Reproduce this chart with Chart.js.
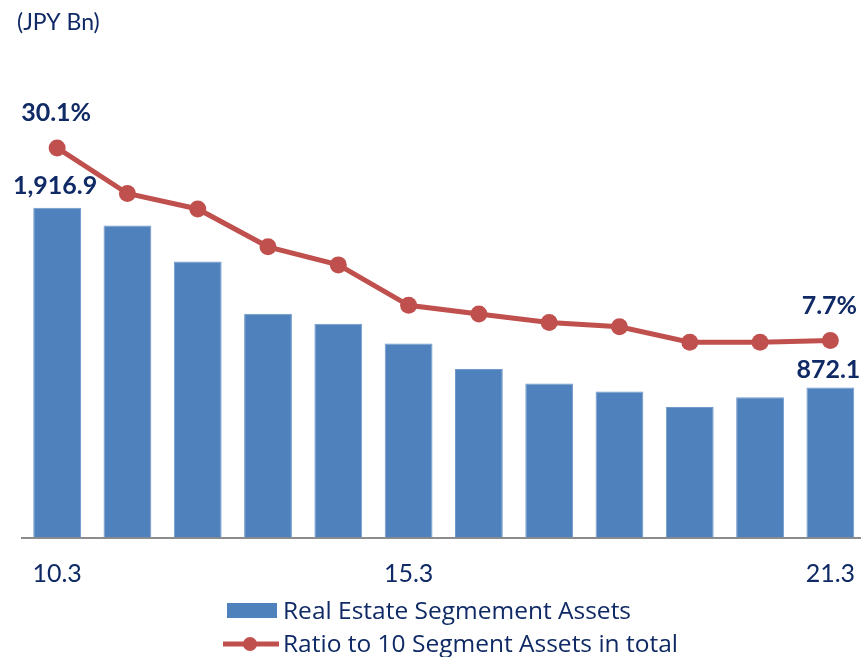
<!DOCTYPE html>
<html>
<head>
<meta charset="utf-8">
<script src="https://cdn.jsdelivr.net/npm/chart.js@4.4.1/dist/chart.umd.min.js"></script>
<style>
  html, body { margin: 0; padding: 0; width: 861px; height: 657px; overflow: hidden; background: #fff; }
  #wrap { position: relative; width: 861px; height: 657px; overflow: hidden; }
  #chart { position: absolute; left: 0; top: 0; }
</style>
</head>
<body>
<div id="wrap"><canvas id="chart" width="874" height="657"></canvas></div>
<script>
// Real estate segment assets chart

const periods = ['10.3', '11.3', '12.3', '13.3', '14.3', '15.3', '16.3', '17.3', '18.3', '19.3', '20.3', '21.3'];
const shownTicks = ['10.3', '15.3', '21.3'];
const segmentAssets = [1916.9, 1814, 1604, 1301, 1243, 1128, 979, 896, 849, 758, 816, 872.1];
const assetRatio = [30.1, 24.8, 23.0, 18.6, 16.5, 11.8, 10.8, 9.8, 9.3, 7.5, 7.5, 7.7];
const seriesNames = ['Real Estate Segmement Assets', 'Ratio to 10 Segment Assets in total'];
const unitLabel = '(JPY Bn)';

const BLUE = '#4F81BD';
const RED = '#C0504D';
const NAVY = '#102A66';
const FONT = 'Lato, "Open Sans", sans-serif';
const LEGEND_FONT = '"Open Sans", Lato, sans-serif';

function formatAssets(v) {
    return v.toLocaleString('en-US', { minimumFractionDigits: 1, maximumFractionDigits: 1 });
}

// Labels on first and last points, unit text, and the stacked legend
const annotations = {
    id: 'annotations',
    afterDatasetsDraw(chart) {
        const ctx = chart.ctx;
        const bars = chart.getDatasetMeta(0).data;
        const dots = chart.getDatasetMeta(1).data;
        const last = periods.length - 1;
        const barGap = { 0: 14, [last]: 9 };

        ctx.save();
        ctx.font = 'bold 25px ' + FONT;
        ctx.fillStyle = NAVY;
        ctx.textAlign = 'center';
        ctx.textBaseline = 'alphabetic';
        [0, last].forEach(i => {
            ctx.fillText(formatAssets(segmentAssets[i]), bars[i].x - 2, bars[i].y - barGap[i]);
            ctx.fillText(assetRatio[i].toFixed(1) + '%', dots[i].x - 1, dots[i].y - 27);
        });
        ctx.restore();
    },
    afterDraw(chart) {
        const ctx = chart.ctx;
        ctx.save();
        ctx.fillStyle = NAVY;
        ctx.textBaseline = 'middle';
        ctx.textAlign = 'left';
        ctx.font = '23px ' + FONT;
        ctx.fillText(unitLabel, 17, 23);

        // legend row 1: bar swatch
        ctx.fillStyle = BLUE;
        ctx.fillRect(227, 603, 50, 15);
        // legend row 2: line with marker
        ctx.strokeStyle = RED;
        ctx.lineWidth = 5;
        ctx.beginPath();
        ctx.moveTo(223, 644);
        ctx.lineTo(279, 644);
        ctx.stroke();
        ctx.fillStyle = RED;
        ctx.beginPath();
        ctx.arc(250, 644, 7, 0, Math.PI * 2);
        ctx.fill();

        ctx.fillStyle = NAVY;
        ctx.font = '24.5px ' + LEGEND_FONT;
        ctx.fillText(seriesNames[0], 283, 612);
        ctx.fillText(seriesNames[1], 283, 645);
        ctx.restore();
    }
};

document.addEventListener('DOMContentLoaded', function() {
    const ctx = document.getElementById('chart').getContext('2d');
    new Chart(ctx, {
        type: 'bar',
        data: {
            labels: periods,
            datasets: [
                {
                    type: 'bar',
                    label: seriesNames[0],
                    data: segmentAssets,
                    backgroundColor: BLUE,
                    borderColor: '#7199CB',
                    borderWidth: 1,
                    barPercentage: 0.68,
                    categoryPercentage: 1,
                    yAxisID: 'y',
                    order: 2
                },
                {
                    type: 'line',
                    label: seriesNames[1],
                    data: assetRatio,
                    borderColor: RED,
                    backgroundColor: RED,
                    borderWidth: 5,
                    pointRadius: 8.5,
                    pointHoverRadius: 8.5,
                    pointBackgroundColor: RED,
                    pointBorderWidth: 0,
                    tension: 0,
                    yAxisID: 'y1',
                    order: 1
                }
            ]
        },
        options: {
            responsive: false,
            maintainAspectRatio: false,
            animation: false,
            layout: { padding: { left: 22, right: 2, top: 107.5, bottom: 0 } },
            plugins: {
                legend: { display: false },
                tooltip: { enabled: false },
                title: { display: false }
            },
            scales: {
                x: {
                    grid: { display: false },
                    border: { display: true, color: '#8C8C8C', width: 2 },
                    afterFit: function(scale) {
                        scale.height = 119.5;
                    },
                    ticks: {
                        autoSkip: false,
                        maxRotation: 0,
                        padding: 8,
                        color: NAVY,
                        font: { family: FONT, size: 25, lineHeight: 1.6 },
                        callback: function(value, index) {
                            const lab = periods[index];
                            return shownTicks.includes(lab) ? lab : '';
                        }
                    }
                },
                y: { display: false, min: 0, max: 2500 },
                y1: { display: false, min: -15.2, max: 34.8, position: 'right' }
            }
        },
        plugins: [annotations]
    });
});
</script>
</body>
</html>
